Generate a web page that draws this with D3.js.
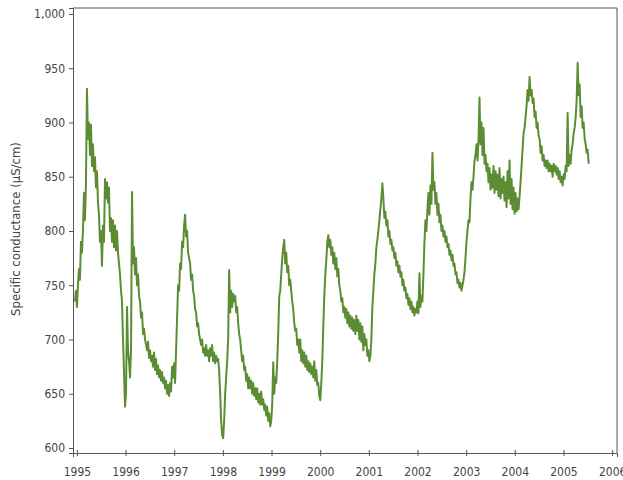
<!DOCTYPE html>
<html>
<head>
<meta charset="utf-8">
<script src="https://cdn.jsdelivr.net/npm/d3@7"></script>
<style>
  html, body { margin: 0; padding: 0; background: #fff; }
  svg { display: block; }
  .tick text { font-family: "Liberation Sans Narrow", "DejaVu Sans Condensed", "Roboto Condensed", sans-serif; font-size: 12px; fill: #444; }
</style>
</head>
<body>
<svg id="chart" width="623" height="480"></svg>
<script>
// ---- Data (specific conductance, µS/cm), regular samples ~every 7.5 days ----
const seriesStartYear = 1994.96;      // decimal year of first sample
const sampleStepYears = 0.02058;      // spacing between samples (years)
const conductance = [
  735,745,730,750,765,755,790,780,800,835,810,845,931,885,900,870,898,860,880,855,
  868,840,855,826,815,790,800,768,805,790,848,830,845,826,840,800,812,790,810,785,
  805,782,800,780,770,760,745,735,700,670,638,650,730,690,680,665,690,836,770,785,
  760,775,750,760,740,735,720,725,705,710,700,695,690,698,683,690,680,685,675,688,
  672,682,668,676,665,672,662,670,660,665,655,662,650,658,648,660,652,675,665,678,
  660,690,720,750,745,770,765,790,785,805,815,795,800,780,775,770,755,760,745,740,
  728,725,712,715,705,700,695,700,688,692,685,695,685,690,680,692,685,695,680,688,
  678,685,680,682,672,650,625,612,609,625,650,665,680,700,764,725,745,730,742,735,
  740,725,730,715,705,700,690,680,685,672,675,662,668,655,665,655,662,650,660,648,
  655,645,655,642,650,640,652,640,645,635,640,630,638,625,632,620,625,640,679,650,
  665,660,680,705,740,745,760,775,785,792,770,780,762,768,750,755,745,735,728,715,
  708,710,695,700,688,700,680,690,678,688,675,685,672,680,670,678,668,675,665,680,
  662,672,658,660,648,644,660,680,712,740,760,773,790,796,785,792,778,785,770,780,
  765,775,758,765,750,745,735,738,725,730,720,728,715,725,712,722,710,720,708,718,
  705,722,708,718,700,715,698,712,690,705,695,700,685,690,680,685,700,730,745,760,
  770,785,792,800,810,820,830,844,830,812,818,805,810,795,800,788,792,782,785,775,
  780,768,772,762,768,758,762,750,755,745,748,738,742,732,738,728,735,725,730,722,
  728,725,735,724,761,730,740,735,760,790,810,800,820,835,815,842,825,872,838,845,
  825,835,815,825,808,815,800,805,795,800,790,795,785,788,778,782,773,778,768,770,
  760,762,752,755,748,752,745,750,755,762,775,790,800,810,808,830,845,838,850,865,
  870,880,865,884,923,880,900,870,895,862,870,855,862,845,858,838,852,840,860,835,
  855,838,852,832,858,830,848,835,850,828,845,822,855,830,865,825,848,820,840,816,
  835,818,830,820,832,845,860,875,890,895,905,915,930,920,942,925,930,918,922,905,
  910,895,900,888,885,872,878,865,870,860,865,858,865,855,862,855,860,850,862,855,
  860,852,858,848,855,845,850,842,852,848,860,855,909,860,870,862,875,880,890,895,
  905,920,955,925,935,905,915,895,900,885,880,872,875,862
];
const xTickYears = [1995,1996,1997,1998,1999,2000,2001,2002,2003,2004,2005,2006];
const yTickValues = [600,650,700,750,800,850,900,950,1000];
const yTitle = "Specific conductance (µS/cm)";

// ---- Layout ----
const svg = d3.select("#chart");
const plotL = 73, plotR = 617, plotT = 8, plotB = 453;
const x = d3.scaleLinear().domain([1994.92, 2006.1]).range([plotL, plotR]);
const y = d3.scaleLinear().domain([595.4, 1005.5]).range([plotB, plotT]);

const series = conductance.map((v, i) => ({ t: seriesStartYear + i * sampleStepYears, v }));

// frame (top and right)
svg.append("path")
  .attr("d", `M${plotL},${plotT}H${plotR}V${plotB}`)
  .attr("fill", "none").attr("stroke", "#555").attr("stroke-width", 1);

// line
svg.append("path")
  .datum(series)
  .attr("fill", "none")
  .attr("stroke", "#5c8d35")
  .attr("stroke-width", 2)
  .attr("stroke-linejoin", "round")
  .attr("d", d3.line().x(d => x(d.t)).y(d => y(d.v)));

// axes
const yAxis = svg.append("g")
  .attr("transform", `translate(${plotL},0)`)
  .call(d3.axisLeft(y).tickValues(yTickValues).tickFormat(d3.format(",")).tickSize(4).tickPadding(4));
const xAxis = svg.append("g")
  .attr("transform", `translate(0,${plotB})`)
  .call(d3.axisBottom(x).tickValues(xTickYears).tickFormat(d3.format("d")).tickSize(4).tickPadding(10));
[yAxis, xAxis].forEach(g => {
  g.select(".domain").attr("stroke", "#555");
  g.selectAll(".tick line").attr("stroke", "#555");
});
xAxis.selectAll(".tick line").attr("y1", -3).attr("y2", 3);

// y title
svg.append("text")
  .attr("transform", `translate(20,229) rotate(-90)`)
  .attr("text-anchor", "middle")
  .style("font-family", '"Liberation Sans Narrow", "DejaVu Sans Condensed", sans-serif')
  .style("font-size", "13px")
  .style("fill", "#444")
  .text(yTitle);
</script>
</body>
</html>
